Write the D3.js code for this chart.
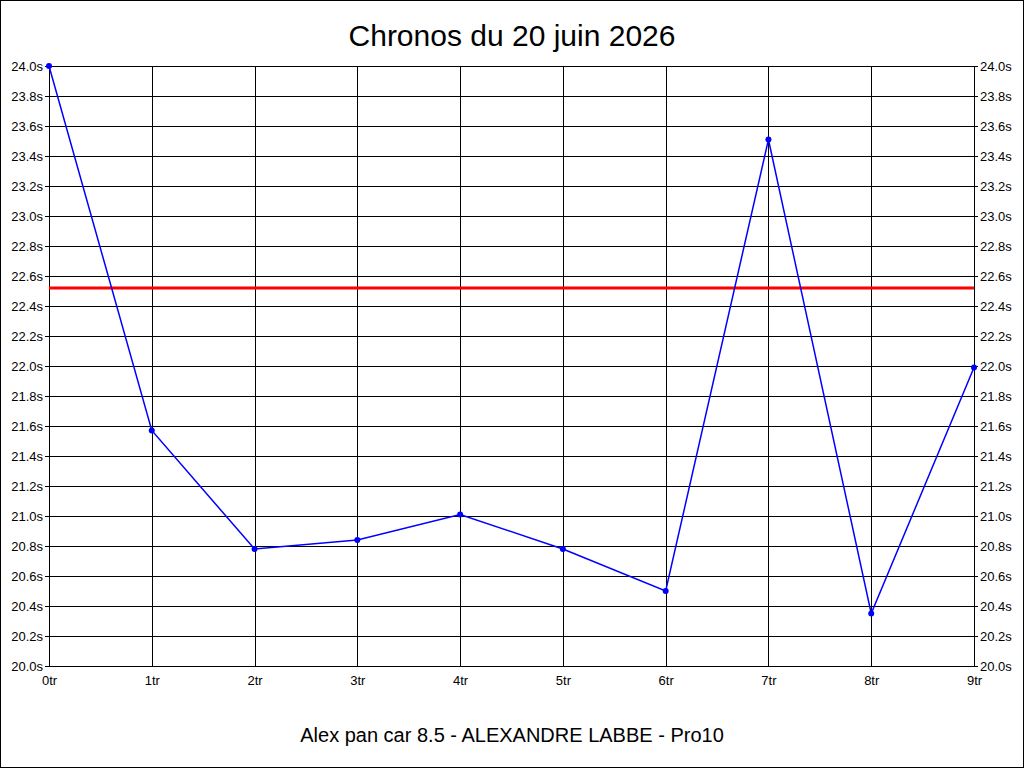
<!DOCTYPE html>
<html>
<head>
<meta charset="utf-8">
<script src="https://cdn.jsdelivr.net/npm/d3@7"></script>
<style>
  body { margin: 0; background: #fff; }
  svg { display: block; }
  .tick-label { font-family: "Liberation Sans Narrow", "Liberation Sans", Arial, sans-serif; font-size: 13px; fill: #000; }
</style>
</head>
<body>
<div id="chart"><svg width="1024" height="768"></svg></div>
<script>
const laps = ['0tr','1tr','2tr','3tr','4tr','5tr','6tr','7tr','8tr','9tr'];
const times = [24.0, 21.57, 20.78, 20.84, 21.01, 20.78, 20.50, 23.51, 20.35, 21.99];
const refTime = 22.52;
const yTicks = d3.range(20.0, 24.01, 0.2);
const title = 'Chronos du 20 juin 2026';
const subtitle = 'Alex pan car 8.5 - ALEXANDRE LABBE - Pro10';

const width = 1024, height = 768;
const margin = {top: 66, right: 50, bottom: 102, left: 49};

const svg = d3.select('#chart svg');

// outer frame
svg.append('rect')
    .attr('x', 0.5).attr('y', 0.5)
    .attr('width', width - 1).attr('height', height - 1)
    .attr('fill', '#fff').attr('stroke', '#000');

const x = d3.scalePoint()
    .domain(laps)
    .range([margin.left, width - margin.right]);

const y = d3.scaleLinear()
    .domain([20, 24])
    .range([height - margin.bottom, margin.top]);

// grid
const grid = svg.append('g').attr('stroke', '#000').attr('stroke-width', 1).attr('shape-rendering', 'crispEdges');
grid.selectAll('line.h')
    .data(yTicks)
    .join('line')
    .attr('class', 'h')
    .attr('x1', margin.left).attr('x2', width - margin.right)
    .attr('y1', d => Math.round(y(d)) + 0.5).attr('y2', d => Math.round(y(d)) + 0.5);
grid.selectAll('line.v')
    .data(laps)
    .join('line')
    .attr('class', 'v')
    .attr('x1', d => Math.round(x(d)) + 0.5).attr('x2', d => Math.round(x(d)) + 0.5)
    .attr('y1', margin.top).attr('y2', height - margin.bottom);

// axes
const fmt = d => d.toFixed(1) + 's';
const yLeft = d3.axisLeft(y).tickValues(yTicks).tickFormat(fmt).tickSize(4).tickPadding(2);
const yRight = d3.axisRight(y).tickValues(yTicks).tickFormat(fmt).tickSize(4).tickPadding(2);
const xAxis = d3.axisBottom(x).tickSize(0).tickPadding(10);

function styleAxis(g) {
    g.select('.domain').remove();
    g.selectAll('text').attr('class', 'tick-label').attr('font-family', null).attr('font-size', null);
    g.selectAll('.tick line').attr('shape-rendering', 'crispEdges');
}

svg.append('g').attr('transform', `translate(${margin.left},0)`).call(yLeft).call(styleAxis);
svg.append('g').attr('transform', `translate(${width - margin.right},0)`).call(yRight).call(styleAxis);
svg.append('g').attr('transform', `translate(0,${height - margin.bottom})`).call(xAxis).call(styleAxis);

// reference line
svg.append('line')
    .attr('x1', margin.left).attr('x2', width - margin.right)
    .attr('y1', y(refTime)).attr('y2', y(refTime))
    .attr('stroke', '#ff0000').attr('stroke-width', 3);

// series
const line = d3.line()
    .x((d, i) => x(laps[i]))
    .y(d => y(d));

svg.append('path')
    .datum(times)
    .attr('fill', 'none')
    .attr('stroke', '#0000ff')
    .attr('stroke-width', 1.5)
    .attr('d', line);

svg.append('g')
    .selectAll('circle')
    .data(times)
    .join('circle')
    .attr('cx', (d, i) => x(laps[i]))
    .attr('cy', d => y(d))
    .attr('r', 3)
    .attr('fill', '#0000ff');

// titles
svg.append('text')
    .attr('x', width / 2).attr('y', 46)
    .attr('text-anchor', 'middle')
    .attr('font-family', '"Liberation Sans", Arial, sans-serif')
    .attr('font-size', 30)
    .text(title);

svg.append('text')
    .attr('x', width / 2).attr('y', 742)
    .attr('text-anchor', 'middle')
    .attr('font-family', '"Liberation Sans", Arial, sans-serif')
    .attr('font-size', 20)
    .text(subtitle);
</script>
</body>
</html>
